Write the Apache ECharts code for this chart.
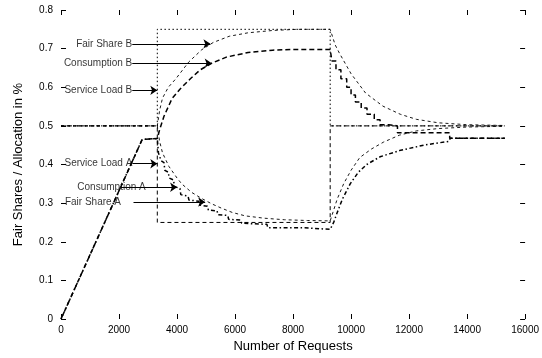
<!DOCTYPE html>
<html><head><meta charset="utf-8">
<script src="https://cdn.jsdelivr.net/npm/echarts@6/dist/echarts.min.js"></script>
<style>html,body{margin:0;padding:0;background:#fff}#c{width:542px;height:358px}</style>
</head><body><div id="c"></div>
<script>
// ---- data ----
const xTitle = 'Number of Requests';
const yTitle = 'Fair Shares / Allocation in %';

const serviceLoadA = [[0,0.5],[3320,0.5],[3320,0.25],[9280,0.25],[9280,0.5],[15300,0.5]];
const serviceLoadB = [[0,0.5],[3320,0.5],[3320,0.75],[9280,0.75],[9280,0.5],[15300,0.5]];

const fairShareB = [[0,0.5],[3320,0.5],[3400,0.54],[3500,0.572],[3700,0.60],[3960,0.622],[4400,0.665],
  [4850,0.697],[5250,0.716],[5800,0.732],[6450,0.741],[7300,0.747],[8150,0.75],[9280,0.75],
  [9450,0.71],[9600,0.688],[10000,0.635],[10500,0.585],[11100,0.551],[11700,0.53],[12250,0.517],
  [13000,0.508],[14000,0.503],[15300,0.501]];

const fairShareA = [[0,0.5],[3320,0.5],[3400,0.46],[3500,0.43],[3720,0.395],[4000,0.365],[4160,0.35],
  [4500,0.328],[4850,0.312],[5200,0.298],[5530,0.287],[5900,0.276],[6350,0.267],[7000,0.261],
  [7700,0.257],[8500,0.255],[9280,0.254],[9405,0.283],[9520,0.31],[9750,0.351],[10000,0.385],
  [10300,0.418],[10700,0.44],[11120,0.458],[11670,0.476],[12250,0.487],[13000,0.493],[14000,0.497],[15300,0.499]];

const consumptionB = [[0,0],[2800,0.465],[3320,0.467],[3400,0.49],[3550,0.525],[3830,0.571],[4100,0.595],
  [4460,0.622],[4800,0.645],[5190,0.662],[5700,0.678],[6450,0.69],[7300,0.696],[8150,0.698],[9280,0.698],
  [9340,0.698],[9340,0.668],[9480,0.668],[9480,0.645],[9650,0.645],[9650,0.622],[9850,0.622],[9850,0.6],
  [10000,0.6],[10000,0.58],[10150,0.58],[10150,0.562],[10350,0.562],[10350,0.546],[10550,0.546],
  [10550,0.53],[10800,0.53],[10800,0.516],[11000,0.516],[11000,0.503],[11300,0.503],[11300,0.5],
  [11600,0.5],[11600,0.482],[13400,0.482],[13400,0.468],[15300,0.468]];

const consumptionA = [[0,0],[2800,0.465],[3320,0.467],[3360,0.43],[3420,0.43],[3450,0.41],[3550,0.405],
  [3580,0.385],[3700,0.38],[3730,0.365],[3880,0.36],[3910,0.343],[4100,0.338],[4130,0.322],[4380,0.318],
  [4410,0.308],[4750,0.305],[4780,0.295],[5050,0.292],[5080,0.282],[5380,0.28],[5410,0.27],[5750,0.268],
  [5780,0.258],[6200,0.256],[6230,0.248],[7100,0.245],[7130,0.236],[8400,0.236],[8430,0.232],[9280,0.232],
  [9330,0.234],[9400,0.25],[9520,0.275],[9700,0.31],[9970,0.35],[10250,0.38],[10540,0.40],[11000,0.42],
  [11670,0.436],[12500,0.45],[13370,0.46],[13420,0.468],[15300,0.468]];

// annotations: text, text right edge x, arrow start x, arrow end x, y
const noteText   = ['Fair Share B','Consumption B','Service Load B','Service Load A','Consumption A','Fair Share A'];
const noteTextX  = [2457, 2457, 2457, 2460, 2920, 2070];
const noteFromX  = [2457, 2457, 2457, 2460, 2070, 2500];
const noteToX    = [5152, 5197, 3320, 3320, 4003, 4970];
const noteY      = [0.7125, 0.6624, 0.592, 0.402, 0.341, 0.303];

// ---- chart ----
const FONT = '"Liberation Sans", Arial, sans-serif';
const tick = {show:true, inside:true, length:5, lineStyle:{color:'#000', width:1}};
function axisBase(extra){
  return Object.assign({type:'value', axisLine:{show:false, onZero:false}, axisTick:tick, splitLine:{show:false}}, extra);
}
function lineSeries(name, data, width, dash){
  return {name, type:'line', data, showSymbol:false, symbol:'none', animation:false,
    lineStyle:{color:'#000', width, type:dash}, z:2};
}
const chart = echarts.init(document.getElementById('c'), null, {renderer:'canvas'});
chart.setOption({
  backgroundColor:'#fff',
  animation:false,
  grid:{left:61, right:12, top:10, bottom:33, containLabel:false},
  xAxis:[
    axisBase({min:0, max:16000, interval:2000, position:'bottom',
      axisLabel:{color:'#000', fontSize:10, fontFamily:FONT, margin:6, formatter:v=>String(v)},
      name:xTitle, nameLocation:'middle', nameGap:21,
      nameTextStyle:{color:'#000', fontSize:13, fontFamily:FONT}}),
    axisBase({min:0, max:16000, interval:2000, position:'top', axisLabel:{show:false}})
  ],
  yAxis:[
    axisBase({min:0, max:0.8, interval:0.1, position:'left',
      axisLabel:{color:'#000', fontSize:10, fontFamily:FONT, margin:8},
      name:yTitle, nameLocation:'middle', nameGap:36,
      nameTextStyle:{color:'#000', fontSize:13, fontFamily:FONT}}),
    axisBase({min:0, max:0.8, interval:0.1, position:'right', axisLabel:{show:false}})
  ],
  series:[
    lineSeries('Service Load A', serviceLoadA, 1, [4,3]),
    lineSeries('Service Load B', serviceLoadB, 1, [1.5,2.5]),
    lineSeries('Fair Share A', fairShareA, 0.9, [3,3]),
    lineSeries('Fair Share B', fairShareB, 0.9, [3,3]),
    lineSeries('Consumption A', consumptionA, 1.5, [1.5,2.5,4,2.5]),
    lineSeries('Consumption B', consumptionB, 1.5, [5,3]),
    {type:'scatter', name:'notes', symbolSize:0, animation:false, silent:true, z:5,
      data: noteText.map((t,i)=>({value:[noteTextX[i], noteY[i]], name:t})),
      label:{show:true, position:'left', distance:0, formatter:p=>p.name, color:'#000', fontSize:10, fontFamily:FONT},
      markLine:{silent:true, animation:false, symbol:['none','arrow'], symbolSize:7,
        label:{show:false}, lineStyle:{color:'#000', width:1, type:'solid'},
        data: noteText.map((t,i)=>[{coord:[noteFromX[i], noteY[i]]},{coord:[noteToX[i], noteY[i]]}])}
    }
  ]
});
</script></body></html>
